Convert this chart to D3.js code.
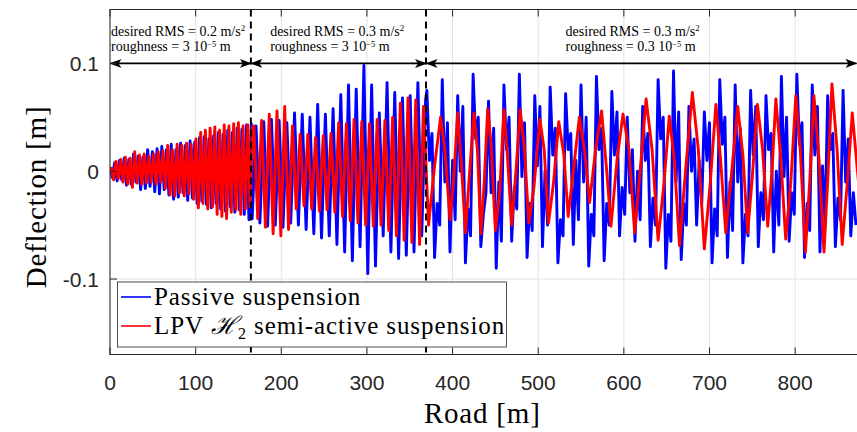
<!DOCTYPE html>
<html>
<head>
<meta charset="utf-8">
<script src="https://cdn.jsdelivr.net/npm/d3@7"></script>
<style>
  body { margin: 0; background: #fff; }
</style>
</head>
<body>
<svg></svg>
<script>
// Chart size
const width = 857, height = 432;

// Axis ticks
const roadTicks = [0, 100, 200, 300, 400, 500, 600, 700, 800];
const deflTicks = [-0.1, 0, 0.1];

// Section boundaries along the road (dashed lines) [m]
const sectionBounds = [0, 164.5, 369, 874];
const sectionLabels = [
  { rms: "0.2", rough: "3" },
  { rms: "0.3", rough: "3" },
  { rms: "0.3", rough: "0.3" }
];

// Passive suspension, section 1: peaks/troughs every 2.75 m from 0 m
const passiveSeg1Start = 0, passiveSeg1Step = 2.75;
const passiveSeg1 = [
  0.002, -0.006, 0.008, -0.009, 0.01, -0.008, 0.012, -0.013, 0.011, -0.012,
  0.016, -0.01, 0.014, -0.017, 0.013, -0.016, 0.02, -0.014, 0.018, -0.019,
  0.021, -0.021, 0.023, -0.017, 0.02, -0.022, 0.025, -0.026, 0.02, -0.024,
  0.026, -0.02, 0.024, -0.027, 0.028, -0.025, 0.027, -0.03, 0.031, -0.028,
  0.032, -0.031, 0.03, -0.034, 0.033, -0.03, 0.036, -0.035, 0.034, -0.037,
  0.038, -0.033, 0.036, -0.038, 0.04, -0.036, 0.039, -0.04, 0.043, -0.045,
  0.044
];

// LPV H2 suspension, section 1
const lpvSeg1Start = 1.4, lpvSeg1Step = 2.75;
const lpvSeg1 = [
  0.004, -0.008, 0.009, -0.007, 0.011, -0.01, 0.013, -0.012, 0.012, -0.015,
  0.018, -0.011, 0.015, -0.012, 0.016, -0.011, 0.014, -0.01, 0.016, -0.012,
  0.018, -0.01, 0.019, -0.016, 0.024, -0.022, 0.02, -0.023, 0.025, -0.02,
  0.024, -0.023, 0.026, -0.021, 0.025, -0.026, 0.03, -0.034, 0.036, -0.03,
  0.038, -0.035, 0.04, -0.033, 0.041, -0.04, 0.038, -0.042, 0.043, -0.044,
  0.042, -0.038, 0.044, -0.036, 0.045, -0.04, 0.042, -0.035, 0.043, -0.033,
  0.04
];

// Passive, section 2: every 4.5 m from 166 m
const passiveSeg2Start = 166, passiveSeg2Step = 4.5;
const passiveSeg2 = [
  -0.044, 0.042, -0.048, 0.046, -0.051, 0.048, -0.05, 0.047, -0.052, 0.045,
  -0.048, 0.054, -0.05, 0.053, -0.054, 0.05, -0.058, 0.062, -0.062, 0.053,
  -0.06, 0.058, -0.068, 0.071, -0.075, 0.08, -0.083, 0.076, -0.07, 0.098,
  -0.095, 0.08, -0.088, 0.054, -0.06, 0.082, -0.075, 0.073, -0.081, 0.068,
  -0.078, 0.07, -0.075, 0.082, -0.06, 0.066
];

// LPV, section 2: every 4.5 m from 168 m
const lpvSeg2Start = 168, lpvSeg2Step = 4.5;
const lpvSeg2 = [
  0.042, -0.044, 0.047, -0.052, 0.053, -0.058, 0.056, -0.06, 0.06, -0.054,
  0.042, -0.035, 0.034, -0.032, 0.034, -0.035, 0.031, -0.037, 0.033, -0.036,
  0.035, -0.038, 0.045, -0.042, 0.044, -0.046, 0.048, -0.048, 0.046, -0.05,
  0.044, -0.051, 0.048, -0.05, 0.047, -0.055, 0.05, -0.06, 0.063, -0.064,
  0.068, -0.066, 0.066, -0.068, 0.06
];

// Passive, section 3: every 3 m from 370 m
const passiveSeg3Start = 370, passiveSeg3Step = 3;
const passiveSeg3 = [
  0.075, 0.01, 0.035, -0.08, -0.03, -0.05,
  0.085, -0.01, 0.045, -0.075, 0.01, -0.045,
  0.07, 0.0, 0.06, -0.085, -0.035, -0.06,
  0.09, 0.03, 0.05, -0.07, -0.04, -0.02,
  0.065, -0.02, 0.04, -0.09, -0.01, -0.065,
  0.08, 0.02, 0.05, -0.065, -0.015, -0.035,
  0.09, -0.005, 0.045, -0.08, -0.03, -0.055,
  0.07, 0.005, 0.06, -0.07, 0.0, -0.05,
  0.078, 0.015, 0.04, -0.085, -0.045, -0.06,
  0.072, 0.02, 0.035, -0.068, 0.01, -0.045,
  0.08, -0.01, 0.05, -0.088, -0.04, -0.06,
  0.088, 0.02, 0.04, -0.083, -0.03, -0.05,
  0.074, 0.015, 0.055, -0.06, -0.015, -0.04,
  0.05, -0.02, 0.02, -0.065, 0.0, -0.045,
  0.06, 0.01, 0.035, -0.07, -0.025, -0.05,
  0.085, 0.03, 0.05, -0.09, -0.04, -0.065,
  0.093, -0.01, 0.055, -0.082, -0.03, -0.05,
  0.06, 0.0, 0.03, -0.05, 0.01, -0.03,
  0.055, 0.01, 0.045, -0.085, -0.035, -0.06,
  0.085, 0.025, 0.05, -0.08, -0.01, -0.055,
  0.08, -0.01, 0.04, -0.085, -0.04, -0.06,
  0.075, 0.015, 0.06, -0.07, -0.02, -0.045,
  0.07, 0.02, 0.035, -0.075, 0.0, -0.05,
  0.088, -0.005, 0.05, -0.065, -0.02, -0.04,
  0.09, 0.025, 0.045, -0.08, -0.03, -0.055,
  0.08, 0.015, 0.06, -0.075, 0.005, -0.05,
  0.07, 0.02, 0.035, -0.07, -0.025, -0.045,
  0.075, -0.01, 0.03, -0.06, -0.02, -0.05
];

// LPV, section 3: [road m, deflection m] along the slow wave with ripple
const lpvSeg3 = [
  [372, -0.05], [379, 0.005], [386, 0.05], [391, 0.02], [397, -0.045],
  [401, -0.01], [406, 0.054], [410, 0.01], [415, -0.057], [420, 0.0],
  [425, 0.054], [429, 0.02], [433, -0.058], [437, -0.01], [441, 0.058],
  [445, 0.025], [450, -0.055], [455, -0.02], [460, 0.057], [464, 0.015],
  [469, -0.05], [474, 0.0], [479, 0.057], [484, 0.02], [489, -0.048],
  [495, -0.015], [502, 0.048], [507, 0.02], [512, -0.048], [518, -0.01],
  [524, 0.046], [530, 0.015], [535, -0.042], [541, 0.0], [548, 0.05],
  [554, 0.02], [560, -0.029], [567, 0.02], [574, 0.056], [580, 0.0],
  [585, -0.051], [592, 0.01], [599, 0.053], [606, 0.02], [612.6, -0.057],
  [619, 0.0], [626, 0.067], [633, 0.02], [640, -0.064], [647, -0.01],
  [653, 0.051], [659, 0.01], [665, -0.069], [672, 0.0], [680, 0.073],
  [687, 0.02], [694, -0.072], [701, -0.01], [707.5, 0.062], [713, 0.01],
  [719, -0.057], [726, 0.0], [733, 0.06], [739, 0.015], [744.6, -0.057],
  [750, -0.005], [756, 0.062], [762, 0.02], [768, -0.051], [773, 0.0],
  [777.5, 0.067], [783, 0.015], [789, -0.063], [795, -0.01], [800.8, 0.07],
  [806, 0.02], [812, -0.075], [817, -0.01], [822, 0.07], [828, 0.01],
  [833.7, -0.075], [838, -0.01], [843, 0.081], [849, 0.02], [855, -0.068],
  [861, -0.01], [866.7, 0.054], [874, -0.01]
];

// Build series from the arrays
function stepped(values, start, step) {
  return values.map((v, i) => ({ road: start + i * step, defl: v }));
}
const passiveData = [
  ...stepped(passiveSeg1, passiveSeg1Start, passiveSeg1Step),
  ...stepped(passiveSeg2, passiveSeg2Start, passiveSeg2Step),
  ...stepped(passiveSeg3, passiveSeg3Start, passiveSeg3Step)
];
const lpvData = [
  ...stepped(lpvSeg1, lpvSeg1Start, lpvSeg1Step),
  ...stepped(lpvSeg2, lpvSeg2Start, lpvSeg2Step),
  ...lpvSeg3.map(p => ({ road: p[0], defl: p[1] }))
];

// Plot box
const plot = { left: 110, right: 858.5, top: 9.5, bottom: 354.5 };

const x = d3.scaleLinear().domain([0, 874]).range([plot.left, plot.right]);
const y = d3.scaleLinear().domain([-0.17, 0.15]).range([plot.bottom, plot.top]);

const svg = d3.select("svg")
  .attr("width", width)
  .attr("height", height)
  .style("font-family", "'Liberation Serif', 'DejaVu Serif', serif");

// Arrowhead markers
const defs = svg.append("defs");
defs.append("marker")
  .attr("id", "arrow")
  .attr("viewBox", "0 -5 12 10")
  .attr("refX", 11)
  .attr("refY", 0)
  .attr("markerUnits", "userSpaceOnUse")
  .attr("markerWidth", 12)
  .attr("markerHeight", 10)
  .attr("orient", "auto-start-reverse")
  .append("path")
  .attr("d", "M0,-4.5L12,0L0,4.5L3,0Z")
  .attr("fill", "#000");

defs.append("clipPath").attr("id", "clip")
  .append("rect")
  .attr("x", plot.left).attr("y", plot.top)
  .attr("width", plot.right - plot.left).attr("height", plot.bottom - plot.top);

// Grid
const grid = svg.append("g").attr("stroke", "#e3e3e3").attr("stroke-width", 1);
grid.selectAll("line.gx").data(roadTicks).join("line")
  .attr("x1", d => x(d)).attr("x2", d => x(d))
  .attr("y1", plot.top).attr("y2", plot.bottom);
grid.selectAll("line.gy").data(deflTicks).join("line")
  .attr("x1", plot.left).attr("x2", plot.right)
  .attr("y1", d => y(d)).attr("y2", d => y(d));

// Series
const line = d3.line()
  .x(d => x(d.road))
  .y(d => y(d.defl));

const series = svg.append("g").attr("clip-path", "url(#clip)");
series.append("path")
  .datum(passiveData)
  .attr("fill", "none")
  .attr("stroke", "#0000ff")
  .attr("stroke-width", 2.9)
  .attr("stroke-linejoin", "round")
  .attr("d", line);
series.append("path")
  .datum(lpvData)
  .attr("fill", "none")
  .attr("stroke", "#ff0000")
  .attr("stroke-width", 2.9)
  .attr("stroke-linejoin", "round")
  .attr("d", line);

// Dashed section boundaries
svg.append("g").selectAll("line")
  .data(sectionBounds.slice(1, -1))
  .join("line")
  .attr("x1", d => x(d)).attr("x2", d => x(d))
  .attr("y1", plot.top).attr("y2", plot.bottom)
  .attr("stroke", "#000")
  .attr("stroke-width", 2)
  .attr("stroke-dasharray", "7,5");

// Double arrows for each section
const arrowY = y(0.1);
svg.append("g").selectAll("line")
  .data(d3.pairs(sectionBounds))
  .join("line")
  .attr("x1", d => x(d[0]) + 0.5)
  .attr("x2", d => Math.min(x(d[1]), width - 0.5))
  .attr("y1", arrowY).attr("y2", arrowY)
  .attr("stroke", "#000")
  .attr("stroke-width", 1.8)
  .attr("marker-start", "url(#arrow)")
  .attr("marker-end", "url(#arrow)");

// Section annotations
const labelX = [x(0) + 1, x(187), x(532)];
const ann = svg.append("g").attr("font-size", 14).attr("fill", "#000");
sectionLabels.forEach((s, i) => {
  const t1 = ann.append("text").attr("x", labelX[i]).attr("y", 36);
  t1.append("tspan").text(`desired RMS = ${s.rms} m/s`);
  t1.append("tspan").attr("dy", -5).attr("font-size", 9).text("2");
  const t2 = ann.append("text").attr("x", labelX[i]).attr("y", 51);
  t2.append("tspan").text(`roughness = ${s.rough} 10`);
  t2.append("tspan").attr("dy", -4).attr("font-size", 8.5).text("\u22125");
  t2.append("tspan").attr("dy", 4).text(" m");
});

// Legend
const legend = svg.append("g");
legend.append("rect")
  .attr("x", 117.5).attr("y", 282)
  .attr("width", 389).attr("height", 65)
  .attr("fill", "#fff")
  .attr("stroke", "#222")
  .attr("stroke-width", 0.8);
const legendItems = [
  { color: "#0000ff", label: "Passive suspension" },
  { color: "#ff0000", label: "LPV" }
];
legendItems.forEach((d, i) => {
  const ly = 297 + i * 29;
  legend.append("line")
    .attr("x1", 121).attr("x2", 151)
    .attr("y1", ly).attr("y2", ly)
    .attr("stroke", d.color).attr("stroke-width", 1.6);
  const t = legend.append("text")
    .attr("x", 154).attr("y", ly + 7.5)
    .attr("font-size", 25)
    .attr("letter-spacing", 0.9);
  t.append("tspan").text(d.label);
  if (i === 1) {
    t.append("tspan").attr("font-style", "italic").text(" \u210B");
    t.append("tspan").attr("dy", 5).attr("font-size", 16).text("2");
    t.append("tspan").attr("dy", -5).text(" semi-active suspension");
  }
});

// Axes box and ticks
const axes = svg.append("g").attr("stroke", "#262626").attr("stroke-width", 1);
axes.append("rect")
  .attr("x", plot.left).attr("y", plot.top)
  .attr("width", plot.right - plot.left).attr("height", plot.bottom - plot.top)
  .attr("fill", "none");
axes.selectAll("line.tb").data(roadTicks).join("line")
  .attr("x1", d => x(d)).attr("x2", d => x(d))
  .attr("y1", plot.bottom).attr("y2", plot.bottom - 7);
axes.selectAll("line.tt").data(roadTicks).join("line")
  .attr("x1", d => x(d)).attr("x2", d => x(d))
  .attr("y1", plot.top).attr("y2", plot.top + 7);
axes.selectAll("line.tl").data(deflTicks).join("line")
  .attr("x1", plot.left).attr("x2", plot.left + 7)
  .attr("y1", d => y(d)).attr("y2", d => y(d));

// Tick labels
const tickFont = "'Liberation Sans', Arial, sans-serif";
svg.append("g").selectAll("text")
  .data(roadTicks).join("text")
  .attr("x", d => x(d)).attr("y", 390)
  .attr("text-anchor", "middle")
  .attr("font-family", tickFont)
  .attr("font-size", 21)
  .attr("fill", "#262626")
  .text(d => d);
svg.append("g").selectAll("text")
  .data(deflTicks).join("text")
  .attr("x", 99).attr("y", d => y(d) + 7.5)
  .attr("text-anchor", "end")
  .attr("font-family", tickFont)
  .attr("font-size", 21)
  .attr("fill", "#262626")
  .text(d => d === 0 ? "0" : d3.format(".1f")(d).replace("\u2212", "-"));

// Axis titles
svg.append("text")
  .attr("x", (plot.left + plot.right) / 2 - 2).attr("y", 423)
  .attr("text-anchor", "middle")
  .attr("font-size", 29)
  .attr("letter-spacing", 0.8)
  .text("Road [m]");
svg.append("text")
  .attr("transform", `translate(46,${(plot.top + plot.bottom) / 2 + 15}) rotate(-90)`)
  .attr("text-anchor", "middle")
  .attr("font-size", 29)
  .attr("letter-spacing", 0.8)
  .text("Deflection [m]");
</script>
</body>
</html>
